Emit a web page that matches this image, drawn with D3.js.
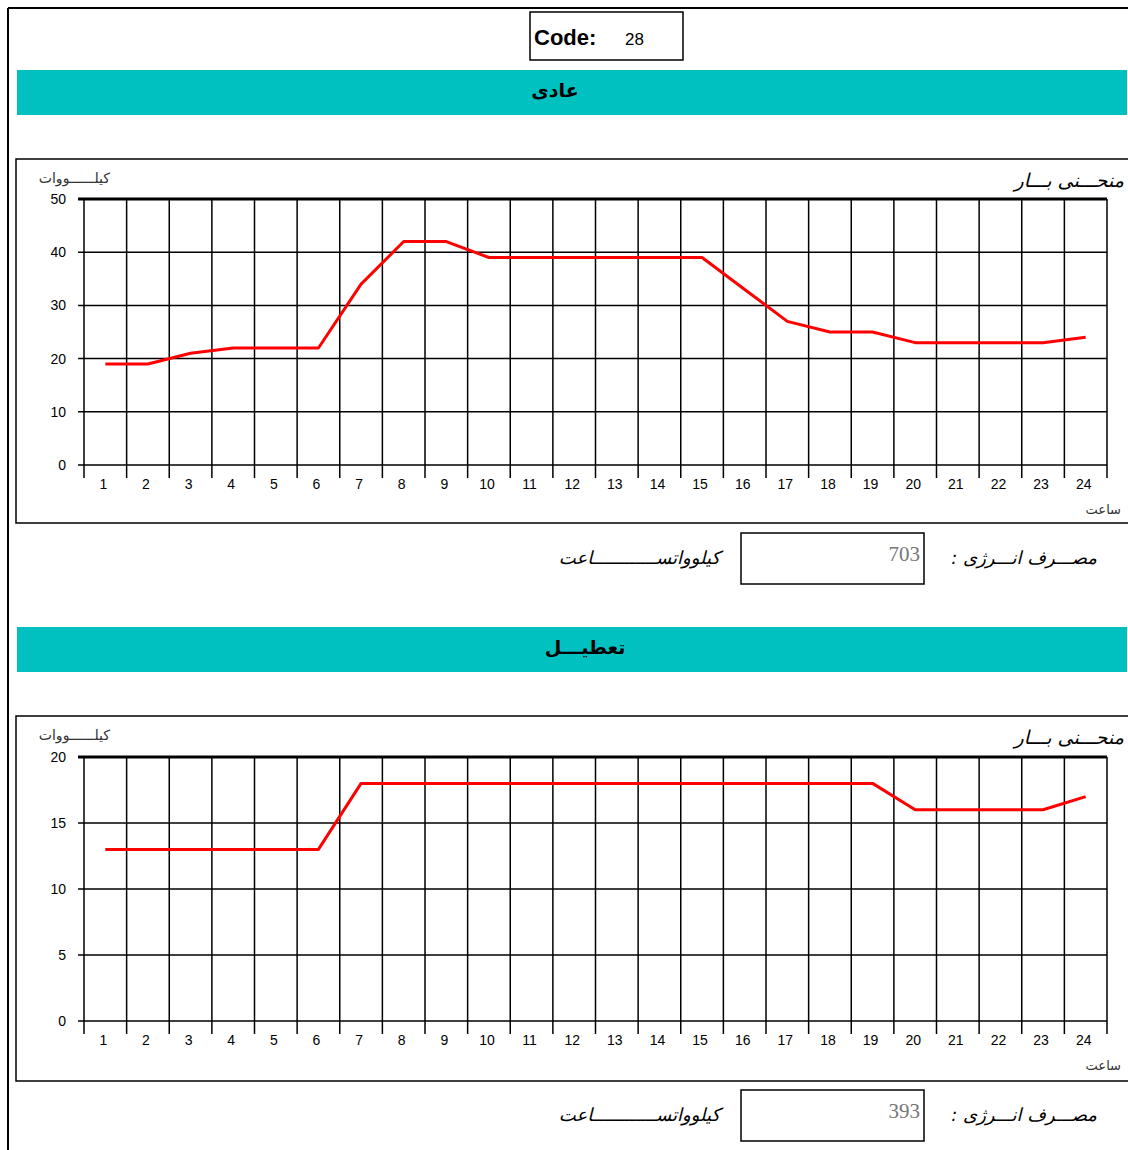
<!DOCTYPE html>
<html>
<head>
<meta charset="utf-8">
<script src="https://cdn.jsdelivr.net/npm/d3@7"></script>
<style>
  body { margin: 0; background: #fff; }
  svg { display: block; }
  text { font-family: "Liberation Sans", Arial, sans-serif; }
  .fa { font-family: "DejaVu Sans", sans-serif; }
</style>
</head>
<body>
<script>
// data
const hours = d3.range(1, 25);
const normalLoad = [19, 19, 21, 22, 22, 22, 34, 42, 42, 39, 39, 39, 39, 39, 39, 33, 27, 25, 25, 23, 23, 23, 23, 24];
const holidayLoad = [13, 13, 13, 13, 13, 13, 18, 18, 18, 18, 18, 18, 18, 18, 18, 18, 18, 18, 18, 16, 16, 16, 16, 17];
const normalTicks = [0, 10, 20, 30, 40, 50];
const holidayTicks = [0, 5, 10, 15, 20];
const code = "28";
const normalEnergy = 703;
const holidayEnergy = 393;

const W = 1128, H = 1150;
const teal = "#00c0c0";
const RLM = "\u200F";

const svg = d3.select("body").append("svg")
  .attr("width", W)
  .attr("height", H);

// page border
svg.append("line").attr("x1", 8).attr("x2", W).attr("y1", 8).attr("y2", 8)
  .attr("stroke", "#000").attr("stroke-width", 2);
svg.append("line").attr("x1", 8).attr("x2", 8).attr("y1", 8).attr("y2", H)
  .attr("stroke", "#000").attr("stroke-width", 2);

// code box
svg.append("rect").attr("x", 530).attr("y", 12).attr("width", 153).attr("height", 48)
  .attr("fill", "none").attr("stroke", "#000").attr("stroke-width", 1.5);
svg.append("text").attr("x", 534).attr("y", 45)
  .style("font-size", "22px").style("font-weight", "bold").text("Code:");
svg.append("text").attr("x", 625).attr("y", 45)
  .style("font-size", "17px").text(code);

function band(y, label, cx) {
  svg.append("rect").attr("x", 17).attr("y", y).attr("width", 1110).attr("height", 45)
    .attr("fill", teal);
  svg.append("text").attr("class", "fa")
    .attr("x", cx).attr("y", y + 27)
    .attr("text-anchor", "middle")
    .style("font-size", "19px").style("font-weight", "bold")
    .text(label);
}

function panel(cfg) {
  const g = svg.append("g");
  // frame
  g.append("rect").attr("x", 16).attr("y", cfg.frameTop)
    .attr("width", W).attr("height", cfg.frameBottom - cfg.frameTop)
    .attr("fill", "none").attr("stroke", "#000").attr("stroke-width", 1.5);

  const x = d3.scaleBand().domain(hours).range([84, 1107]);
  const y = d3.scaleLinear().domain([0, d3.max(cfg.ticks)]).range([cfg.bottom, cfg.top]);

  // horizontal grid
  g.selectAll(".hg").data(cfg.ticks).enter().append("line")
    .attr("x1", 78).attr("x2", 1107)
    .attr("y1", d => y(d)).attr("y2", d => y(d))
    .attr("stroke", "#000")
    .attr("stroke-width", d => d === d3.max(cfg.ticks) ? 3 : 1.5);

  // vertical grid + ticks below axis
  const edges = d3.range(hours.length + 1).map(i => x.range()[0] + i * x.step());
  g.selectAll(".vg").data(edges).enter().append("line")
    .attr("x1", d => d).attr("x2", d => d)
    .attr("y1", cfg.top).attr("y2", cfg.bottom + 13)
    .attr("stroke", "#000").attr("stroke-width", 1.5);

  // y labels
  g.selectAll(".yl").data(cfg.ticks).enter().append("text")
    .attr("x", 66).attr("y", d => y(d) + 5)
    .attr("text-anchor", "end")
    .style("font-size", "14px")
    .text(d => d);

  // x labels
  g.selectAll(".xl").data(hours).enter().append("text")
    .attr("x", d => x(d) + x.bandwidth() / 2 - 2).attr("y", cfg.bottom + 24)
    .attr("text-anchor", "middle")
    .style("font-size", "14px")
    .text(d => d);

  // load curve
  const line = d3.line()
    .x((d, i) => x(hours[i]) + x.bandwidth() / 2)
    .y(d => y(d));
  g.append("path").datum(cfg.values)
    .attr("d", line)
    .attr("fill", "none").attr("stroke", "#ff0000")
    .attr("stroke-width", 3).attr("stroke-linejoin", "round");

  // titles
  g.append("text").attr("class", "fa")
    .attr("x", 110).attr("y", cfg.frameTop + 24)
    .attr("text-anchor", "end")
    .style("font-size", "14px").attr("fill", "#333")
    .text("کیلــــــووات");
  g.append("text").attr("class", "fa")
    .attr("x", 1124).attr("y", cfg.frameTop + 28)
    .attr("text-anchor", "end")
    .style("font-size", "19px").style("font-style", "italic")
    .text("منحـــنی بـــار");
  g.append("text").attr("class", "fa")
    .attr("x", 1121).attr("y", cfg.bottom + 49)
    .attr("text-anchor", "end")
    .style("font-size", "13px").style("letter-spacing", "1px").attr("fill", "#333")
    .text("ساعت");

  // energy row
  g.append("rect").attr("x", 741).attr("y", cfg.boxTop)
    .attr("width", 183).attr("height", 51)
    .attr("fill", "none").attr("stroke", "#000").attr("stroke-width", 1.5);
  g.append("text")
    .attr("x", 920).attr("y", cfg.boxTop + 28)
    .attr("text-anchor", "end")
    .style("font-family", "'Liberation Serif', serif")
    .style("font-size", "21px").attr("fill", "#777")
    .text(cfg.energy);
  g.append("text").attr("class", "fa")
    .attr("x", 1097).attr("y", cfg.boxTop + 31)
    .attr("text-anchor", "end")
    .style("font-size", "18px").style("font-style", "italic")
    .text("مصـــرف انـــرژی :" + RLM);
  g.append("text").attr("class", "fa")
    .attr("x", 720).attr("y", cfg.boxTop + 31)
    .attr("text-anchor", "end")
    .style("font-size", "18px").style("font-style", "italic")
    .text("کیلوواتســــــــــــاعت");
}

band(70, "عادی", 555);
panel({ frameTop: 159, frameBottom: 523, top: 199, bottom: 465,
  ticks: normalTicks, values: normalLoad, boxTop: 533, energy: normalEnergy });

band(627, "تعطیـــل", 585);
panel({ frameTop: 716, frameBottom: 1081, top: 757, bottom: 1021,
  ticks: holidayTicks, values: holidayLoad, boxTop: 1090, energy: holidayEnergy });
</script>
</body>
</html>
